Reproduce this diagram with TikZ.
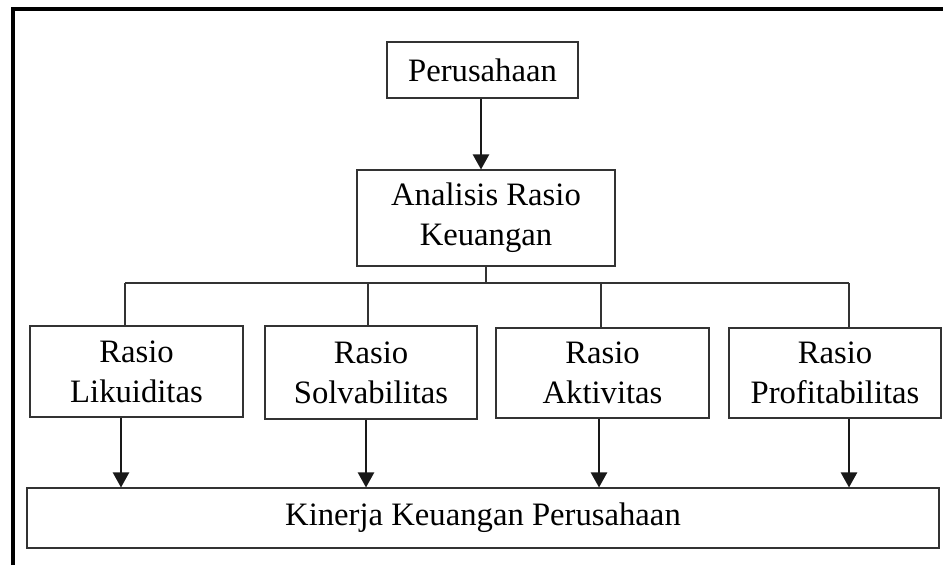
\documentclass[tikz,border=0pt]{standalone}
\usepackage{fontspec}
\setmainfont{Liberation Serif}
\usetikzlibrary{arrows.meta}
\tikzset{
    kotak/.style={
           draw=black!80, line width=0.6pt,
           align=center,
           inner sep=0pt,
           font=\fontsize{18.6}{22.7}\selectfont,
           },
    panah/.style={
           ->, >={Triangle[length=0.3cm,width=0.32cm]},
           line width=1.3pt, black!90,
           },
    garis/.style={draw=black!80, line width=0.6pt},
}

\begin{document}
\begin{tikzpicture}[x=0.02cm, y=-0.02cm]
\useasboundingbox (0,0) rectangle (943,565);
% bingkai luar
\draw[black, line width=2.4pt] (13,565) -- (13,9) -- (943,9);
\node[kotak, minimum width=191*0.02cm, minimum height=56*0.02cm] (per) at (482.5,70) {Perusahaan};
\node[kotak, minimum width=258*0.02cm, minimum height=96*0.02cm] (ana) at (486,218) {Analisis Rasio\\Keuangan};
\node[kotak, minimum width=213*0.02cm, minimum height=91*0.02cm] (lik) at (136.5,371.5) {Rasio\\Likuiditas};
\node[kotak, minimum width=212*0.02cm, minimum height=93*0.02cm] (sol) at (371,372.5) {Rasio\\Solvabilitas};
\node[kotak, minimum width=213*0.02cm, minimum height=90*0.02cm] (akt) at (602.5,373) {Rasio\\Aktivitas};
\node[kotak, minimum width=212*0.02cm, minimum height=90*0.02cm] (pro) at (835,373) {Rasio\\Profitabilitas};
\node[kotak, minimum width=912*0.02cm, minimum height=60*0.02cm] (kin) at (483,518) {Kinerja Keuangan Perusahaan};
\draw[panah] (481,0 |- per.south) -- (481,0 |- ana.north);
% cabang ke empat rasio
\coordinate (cab) at (486,283);
\draw[garis] (ana.south -| cab) -- (cab);
\draw[garis] (125,0 |- cab) -- (849,0 |- cab);
\draw[garis] (125,0 |- cab) -- (125,0 |- lik.north);
\draw[garis] (368,0 |- cab) -- (368,0 |- sol.north);
\draw[garis] (601,0 |- cab) -- (601,0 |- akt.north);
\draw[garis] (849,0 |- cab) -- (849,0 |- pro.north);
\draw[panah] (121,0 |- lik.south) -- (121,0 |- kin.north);
\draw[panah] (366,0 |- sol.south) -- (366,0 |- kin.north);
\draw[panah] (599,0 |- akt.south) -- (599,0 |- kin.north);
\draw[panah] (849,0 |- pro.south) -- (849,0 |- kin.north);
\end{tikzpicture}
\end{document}
